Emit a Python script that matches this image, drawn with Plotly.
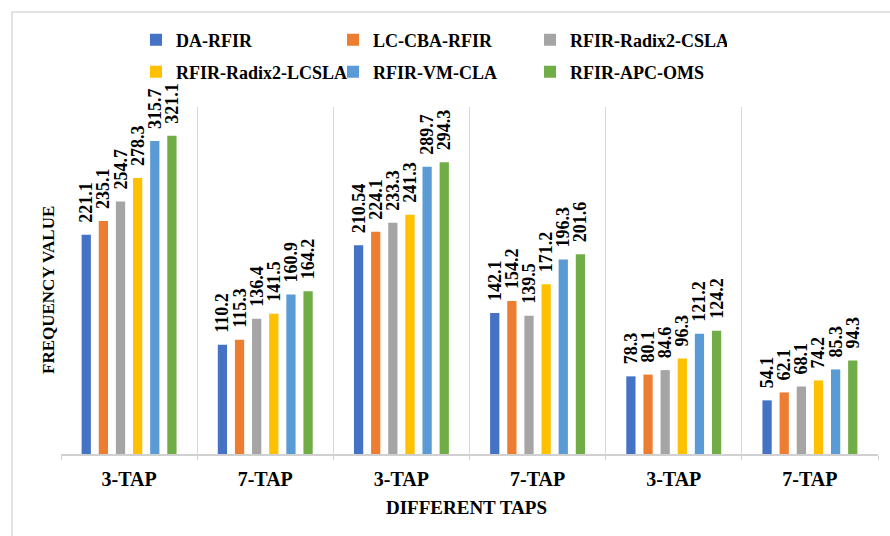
import plotly.graph_objects as go

categories = ["3-TAP", "7-TAP", "3-TAP", "7-TAP", "3-TAP", "7-TAP"]
series_names = ["DA-RFIR", "LC-CBA-RFIR", "RFIR-Radix2-CSLA",
                "RFIR-Radix2-LCSLA", "RFIR-VM-CLA", "RFIR-APC-OMS"]
da_rfir = [221.1, 110.2, 210.54, 142.1, 78.3, 54.1]
lc_cba_rfir = [235.1, 115.3, 224.1, 154.2, 80.1, 62.1]
radix2_csla = [254.7, 136.4, 233.3, 139.5, 84.6, 68.1]
radix2_lcsla = [278.3, 141.5, 241.3, 171.2, 96.3, 74.2]
vm_cla = [315.7, 160.9, 289.7, 196.3, 121.2, 85.3]
apc_oms = [321.1, 164.2, 294.3, 201.6, 124.2, 94.3]
series_values = [da_rfir, lc_cba_rfir, radix2_csla, radix2_lcsla, vm_cla, apc_oms]
colors = ["#4472C4", "#ED7D31", "#A5A5A5", "#FFC000", "#5B9BD5", "#70AD47"]

FONT = "Liberation Serif"
W, H = 890, 536
L, R, T, B = 61, 12, 107, 82
PW, PH = W - L - R, H - T - B

x_idx = list(range(len(categories)))

fig = go.Figure()
for i, (name, vals, col) in enumerate(zip(series_names, series_values, colors)):
    fig.add_trace(go.Bar(
        x=x_idx, y=vals, name=name,
        marker=dict(color=col, line=dict(width=0)),
        text=[str(v) for v in vals],
        texttemplate="\u00a0\u00a0%{text}",
        textposition="outside", textangle=-90, constraintext="none",
        cliponaxis=False,
        textfont=dict(family=FONT, size=18, color="black", weight="bold"),
        legend="legend" if i < 3 else "legend2",
    ))

def px_x(px):
    return (px - L) / PW

def px_y(py):
    return (H - B - py) / PH

legend_common = dict(
    orientation="h", xref="container", yref="container",
    xanchor="left", yanchor="middle",
    font=dict(family=FONT, size=18, color="black", weight="bold"),
    entrywidthmode="pixels", entrywidth=152, itemwidth=30,
    bgcolor="rgba(0,0,0,0)", traceorder="normal",
)

fig.update_layout(
    width=W, height=H,
    margin=dict(l=L, r=R, t=T, b=B),
    paper_bgcolor="white", plot_bgcolor="white",
    barmode="group", bargap=0.245, bargroupgap=0.46,
    showlegend=True,
    legend=dict(x=136 / W, y=1 - 40 / H, **legend_common),
    legend2=dict(x=136 / W, y=1 - 72 / H, **legend_common),
    xaxis=dict(
        tickmode="array", tickvals=x_idx, ticktext=categories,
        range=[-0.5, len(categories) - 0.5],
        showgrid=False, zeroline=False,
        showline=True, linecolor="#D0D0D0", linewidth=1.5,
        ticks="", ticklabelstandoff=6,
        tickfont=dict(family=FONT, size=20, color="black", weight="bold"),
        minor=dict(tickvals=[i - 0.5 for i in range(len(categories) + 1)],
                   showgrid=True, gridcolor="#D9D9D9", gridwidth=1,
                   ticks="outside", ticklen=4, tickcolor="#D0D0D0"),
    ),
    yaxis=dict(range=[0, 350], showgrid=False, zeroline=False,
               showticklabels=False, showline=False, ticks=""),
    annotations=[
        dict(text="FREQUENCY VALUE", xref="paper", yref="paper",
             x=px_x(48), y=px_y(290), textangle=-90, showarrow=False,
             xanchor="center", yanchor="middle",
             font=dict(family=FONT, size=17, color="black", weight="bold")),
        dict(text="DIFFERENT TAPS", xref="paper", yref="paper",
             x=px_x(466), y=px_y(507), showarrow=False,
             xanchor="center", yanchor="middle",
             font=dict(family=FONT, size=19, color="black", weight="bold")),
    ],
    shapes=[dict(type="rect", xref="paper", yref="paper",
                 x0=px_x(12), x1=px_x(900), y0=px_y(12), y1=px_y(550),
                 line=dict(color="#D9D9D9", width=1.5), layer="below")],
)

fig.write_html("out.html", config={"displayModeBar": False},
               post_script="document.body.style.margin='0px';")
